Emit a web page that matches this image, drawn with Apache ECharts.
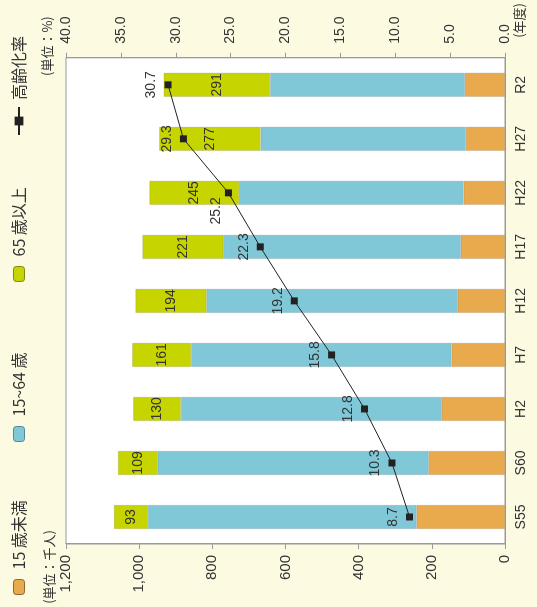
<!DOCTYPE html>
<html>
<head>
<meta charset="utf-8">
<script src="https://cdn.jsdelivr.net/npm/echarts@6/dist/echarts.min.js"></script>
<style>
  html, body { margin: 0; padding: 0; width: 537px; height: 607px; overflow: hidden; background: #fcfae1; }
  /* the chart is laid out as a normal column chart and turned a quarter turn counter-clockwise */
  #chart { position: absolute; left: 0; top: 0; width: 607px; height: 537px;
           transform-origin: 0 0; transform: translate(0, 607px) rotate(-90deg); }
</style>
</head>
<body>
<div id="chart"></div>
<script>
// 年度
const years = ['S55', 'S60', 'H2', 'H7', 'H12', 'H17', 'H22', 'H27', 'R2'];
// 人口（千人）
const under15 = [242, 209, 173, 146, 129, 121, 113, 107, 110];
const age15to64 = [734, 740, 713, 712, 687, 649, 614, 561, 532];
const over65 = [93, 109, 130, 161, 194, 221, 245, 277, 291];
// 高齢化率（%）
const agingRate = [8.7, 10.3, 12.8, 15.8, 19.2, 22.3, 25.2, 29.3, 30.7];
// 目盛
const popTicks = { min: 0, max: 1200, interval: 200 };
const rateTicks = { min: 0, max: 40, interval: 5 };

const seriesNames = ['15 歳未満', '15~64 歳', '65 歳以上', '高齢化率'];
const colors = { under15: '#e9aa4d', mid: '#80c8d8', over65: '#c6d400', line: '#222222' };

const latin = '"Liberation Sans", Arial, "Noto Sans CJK JP", sans-serif';
const cjk = '"Noto Sans CJK JP", "Liberation Sans", sans-serif';
const axisGrey = '#9a9a9a';
const textColor = '#333';

const chart = echarts.init(document.getElementById('chart'), null, { renderer: 'canvas' });

const barBase = {
  type: 'bar',
  stack: 'pop',
  barWidth: 24,
  yAxisIndex: 0,
  itemStyle: { borderColor: 'rgba(120,120,120,0.35)', borderWidth: 0.6 }
};

// one legend box per entry so each can sit at its own spot along the top
function legendEntry(name, left, extra) {
  return Object.assign({
    left: left,
    top: 6,
    itemWidth: 15,
    itemHeight: 11,
    textStyle: { fontFamily: cjk, fontSize: 16, color: textColor, padding: [0, 0, 0, 5] },
    data: [name]
  }, extra || {});
}

// the 25.2 label sits a little to the left of its point
const rateLabelShift = { 6: [-18, 4] };

const option = {
  animation: false,
  backgroundColor: 'transparent',
  textStyle: { fontFamily: latin, color: textColor },
  legend: [
    legendEntry(seriesNames[0], 7, { data: [{ name: seriesNames[0], itemStyle: { borderColor: '#8a6a30', borderWidth: 1 } }] }),
    legendEntry(seriesNames[1], 160, { data: [{ name: seriesNames[1], itemStyle: { borderColor: '#4f8a96', borderWidth: 1 } }] }),
    legendEntry(seriesNames[2], 320, { data: [{ name: seriesNames[2], itemStyle: { borderColor: '#7f8a10', borderWidth: 1 } }] }),
    legendEntry(seriesNames[3], 466, { itemWidth: 28, textStyle: { fontFamily: cjk, fontSize: 16, color: textColor, padding: [0, 0, 0, 2] } })
  ],
  grid: {
    left: 63, right: 57, top: 66, bottom: 32,
    show: true, backgroundColor: '#ffffff', borderColor: axisGrey, borderWidth: 1
  },
  graphic: [
    { type: 'text', x: 77, y: 49,
      style: { text: '(単位：千人)', align: 'right', verticalAlign: 'middle',
               font: '13px "Noto Sans CJK JP", sans-serif', fill: textColor } },
    { type: 'text', x: 531, y: 47,
      style: { text: '(単位：%)', align: 'left', verticalAlign: 'middle',
               font: '13px "Noto Sans CJK JP", sans-serif', fill: textColor } }
  ],
  xAxis: {
    type: 'category',
    data: years,
    axisLine: { lineStyle: { color: axisGrey } },
    axisTick: { show: false },
    axisLabel: { fontSize: 14, color: textColor, margin: 9 },
    name: '(年度)',
    nameLocation: 'end',
    nameGap: 20,
    nameTextStyle: { fontFamily: cjk, fontSize: 13, color: textColor, verticalAlign: 'top', padding: [8, 0, 0, 0] }
  },
  yAxis: [
    {
      type: 'value',
      min: popTicks.min, max: popTicks.max, interval: popTicks.interval,
      axisLine: { show: true, lineStyle: { color: axisGrey } },
      axisTick: { show: true, length: 5, lineStyle: { color: axisGrey } },
      splitLine: { show: false },
      axisLabel: { fontSize: 15, color: textColor, margin: 11,
                   formatter: v => v.toLocaleString('en-US') }
    },
    {
      type: 'value',
      position: 'right',
      min: rateTicks.min, max: rateTicks.max, interval: rateTicks.interval,
      axisLine: { show: true, lineStyle: { color: axisGrey } },
      axisTick: { show: true, length: 5, lineStyle: { color: axisGrey } },
      splitLine: { show: false },
      axisLabel: { fontSize: 14, color: textColor, margin: 14,
                   formatter: v => v.toFixed(1) }
    }
  ],
  series: [
    Object.assign({}, barBase, { name: seriesNames[0], data: under15, itemStyle: Object.assign({}, barBase.itemStyle, { color: colors.under15 }) }),
    Object.assign({}, barBase, { name: seriesNames[1], data: age15to64, itemStyle: Object.assign({}, barBase.itemStyle, { color: colors.mid }) }),
    Object.assign({}, barBase, {
      name: seriesNames[2], data: over65,
      itemStyle: Object.assign({}, barBase.itemStyle, { color: colors.over65 }),
      label: { show: true, position: 'inside', fontSize: 14, color: textColor }
    }),
    {
      name: seriesNames[3],
      type: 'line',
      yAxisIndex: 1,
      data: agingRate.map((v, i) => rateLabelShift[i]
        ? { value: v, label: { offset: rateLabelShift[i] } }
        : v),
      symbol: 'rect',
      symbolSize: 7,
      itemStyle: { color: colors.line },
      lineStyle: { color: colors.line, width: 1 },
      label: { show: true, position: 'top', distance: 6, fontSize: 14, color: textColor,
               formatter: p => p.value.toFixed(1) },
      z: 5
    }
  ]
};

chart.setOption(option);
</script>
</body>
</html>
